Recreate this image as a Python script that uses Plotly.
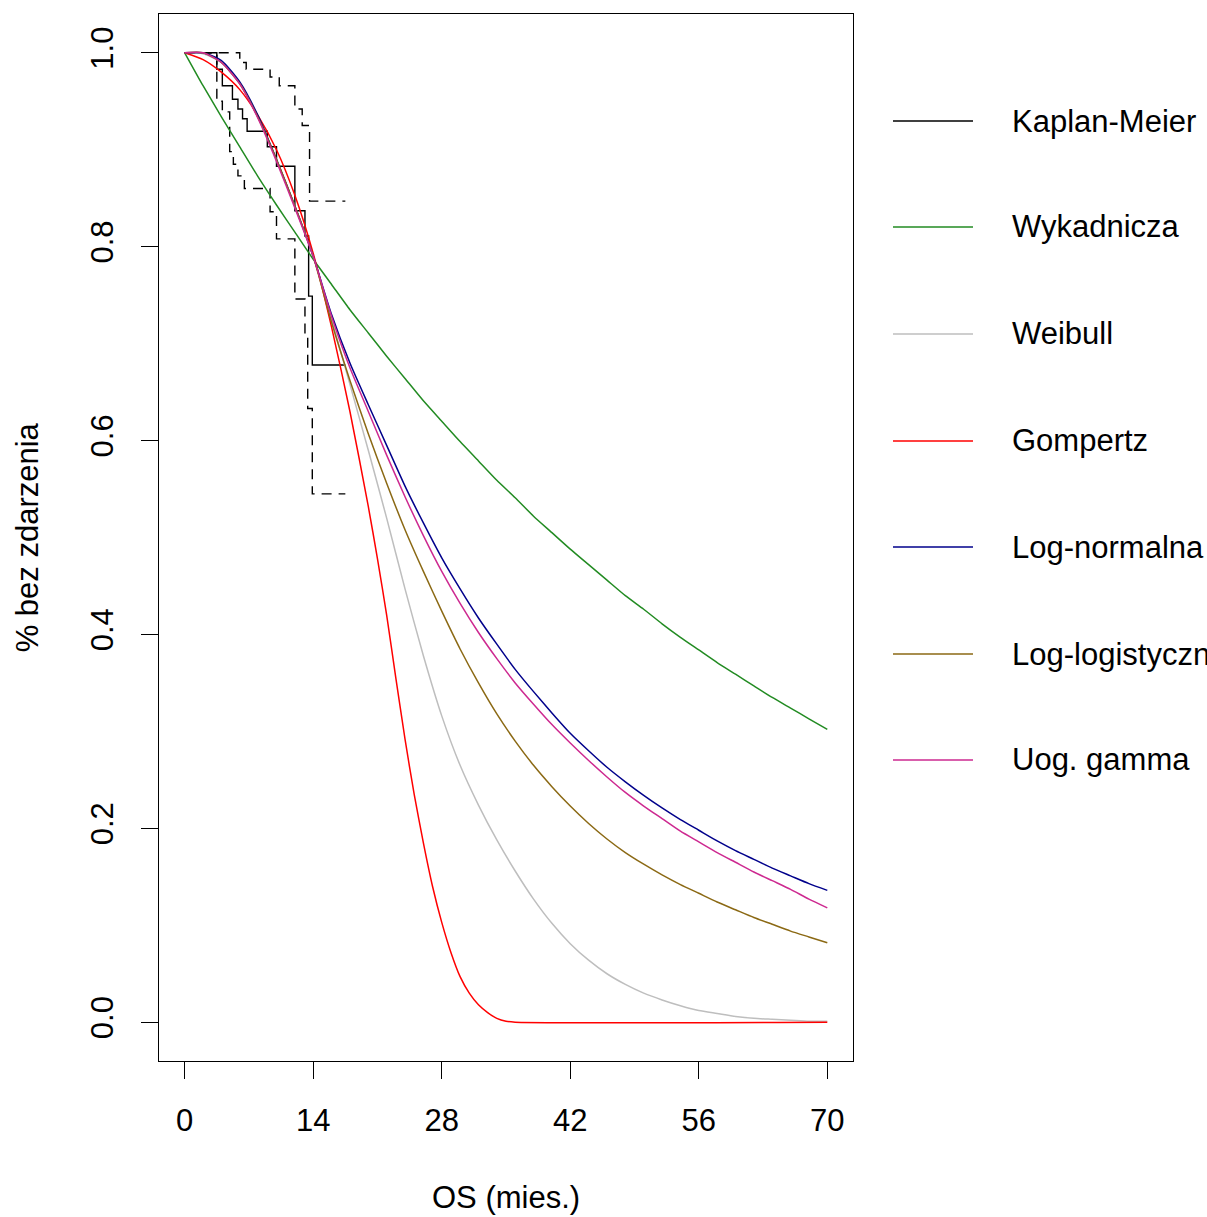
import plotly.graph_objects as go

# ---- Kaplan-Meier step curve and 95% CI ----
km_t = [0, 3.5, 4.1, 5.2, 5.8, 6.3, 6.8, 9.0, 10.0, 12.0, 13.1, 13.5, 13.9, 17.5]
km_s = [1.0, 0.983, 0.966, 0.952, 0.942, 0.932, 0.919, 0.903, 0.883, 0.837, 0.811, 0.749, 0.678, 0.678]

km_lo_t = [0, 3.5, 4.1, 4.9, 5.3, 5.8, 6.5, 9.3, 10.0, 12.0, 13.1, 13.4, 13.9, 17.5]
km_lo_s = [1.0, 0.95, 0.939, 0.898, 0.885, 0.873, 0.86, 0.836, 0.808, 0.746, 0.708, 0.633, 0.545, 0.545]

km_up_t = [0, 6.0, 6.7, 9.3, 10.3, 12.0, 12.8, 13.6, 17.5]
km_up_s = [1.0, 0.99, 0.983, 0.975, 0.966, 0.942, 0.925, 0.847, 0.847]

# ---- fitted parametric curves, read at t = 0, 2, ..., 70 ----
t_grid = [0, 2, 4, 6, 8, 10, 12, 14, 16, 18, 20, 22, 24, 26, 28, 30, 32, 34,
          36, 38, 40, 42, 44, 46, 48, 50, 52, 54, 56, 58, 60, 62, 64, 66, 68, 70]

s_exp = [1.0, 0.966, 0.934, 0.903, 0.872, 0.843, 0.815, 0.787, 0.761, 0.735, 0.711, 0.687,
         0.664, 0.641, 0.620, 0.599, 0.579, 0.559, 0.541, 0.522, 0.505, 0.488, 0.472, 0.456,
         0.440, 0.426, 0.411, 0.397, 0.384, 0.371, 0.359, 0.347, 0.335, 0.324, 0.313, 0.302]

s_weibull = [1.0, 0.999, 0.99, 0.968, 0.933, 0.89, 0.842, 0.79, 0.725, 0.658, 0.59, 0.52,
             0.447, 0.378, 0.316, 0.265, 0.224, 0.188, 0.156, 0.127, 0.102, 0.081, 0.064, 0.05,
             0.039, 0.03, 0.023, 0.017, 0.012, 0.009, 0.006, 0.004, 0.003, 0.002, 0.001, 0.001]

gomp_t = [0, 2, 4, 6, 8, 10, 12, 14, 16, 18, 20, 21, 22, 23, 24, 25, 26, 27, 28, 29, 30,
          31, 32, 33, 34, 35, 36, 70]
s_gomp = [1.0, 0.993, 0.98, 0.962, 0.935, 0.9, 0.853, 0.793, 0.717, 0.63, 0.532, 0.478,
          0.42, 0.355, 0.292, 0.235, 0.185, 0.14, 0.103, 0.072, 0.047, 0.03, 0.018, 0.01,
          0.004, 0.001, 0.0, 0.0]

s_lognorm = [1.0, 1.0, 0.992, 0.97, 0.935, 0.89, 0.842, 0.79, 0.73, 0.68, 0.637, 0.595,
             0.553, 0.515, 0.479, 0.447, 0.417, 0.39, 0.364, 0.341, 0.319, 0.298, 0.28, 0.263,
             0.248, 0.234, 0.221, 0.209, 0.198, 0.187, 0.177, 0.168, 0.159, 0.151, 0.143, 0.136]

s_loglog = [1.0, 1.0, 0.99, 0.968, 0.933, 0.89, 0.842, 0.79, 0.722, 0.662, 0.607, 0.556,
            0.508, 0.465, 0.424, 0.385, 0.35, 0.318, 0.29, 0.265, 0.243, 0.223, 0.205, 0.189,
            0.175, 0.163, 0.152, 0.142, 0.133, 0.124, 0.116, 0.108, 0.101, 0.094, 0.088, 0.082]

s_gengamma = [1.0, 1.0, 0.99, 0.968, 0.932, 0.888, 0.84, 0.79, 0.728, 0.675, 0.63, 0.585,
              0.542, 0.502, 0.465, 0.432, 0.402, 0.375, 0.35, 0.328, 0.307, 0.288, 0.27, 0.253,
              0.237, 0.223, 0.21, 0.197, 0.186, 0.175, 0.165, 0.155, 0.146, 0.137, 0.127, 0.118]

x_ticks = [0, 14, 28, 42, 56, 70]
y_ticks = [0.0, 0.2, 0.4, 0.6, 0.8, 1.0]

legend_labels = ["Kaplan-Meier", "Wykadnicza", "Weibull", "Gompertz",
                 "Log-normalna", "Log-logistyczna", "Uog. gamma"]
legend_colors = ["#000000", "#228B22", "#BEBEBE", "#FF0000", "#00008B", "#8B6914", "#CD2990"]

FONT = "Liberation Sans, Arial, sans-serif"
fig = go.Figure()

# KM and CI
fig.add_trace(go.Scatter(x=km_t, y=km_s, mode="lines", line=dict(color="black", width=1.4, shape="hv"),
                         showlegend=False))
fig.add_trace(go.Scatter(x=km_lo_t, y=km_lo_s, mode="lines",
                         line=dict(color="black", width=1.4, shape="hv", dash="10px,7px"), showlegend=False))
fig.add_trace(go.Scatter(x=km_up_t, y=km_up_s, mode="lines",
                         line=dict(color="black", width=1.4, shape="hv", dash="10px,7px"), showlegend=False))

curves = [
    (t_grid, s_exp, legend_colors[1]),
    (t_grid, s_weibull, legend_colors[2]),
    (gomp_t, s_gomp, legend_colors[3]),
    (t_grid, s_lognorm, legend_colors[4]),
    (t_grid, s_loglog, legend_colors[5]),
    (t_grid, s_gengamma, legend_colors[6]),
]
for xs, ys, col in curves:
    fig.add_trace(go.Scatter(x=xs, y=ys, mode="lines",
                             line=dict(color=col, width=1.5, shape="spline", smoothing=0.6),
                             showlegend=False))

# Manual legend outside the plot area (R style)
shapes = []
annotations = []
leg_y = [0.8978, 0.7966, 0.6944, 0.5922, 0.4909, 0.3887, 0.2875]
for lab, col, yy in zip(legend_labels, legend_colors, leg_y):
    shapes.append(dict(type="line", xref="paper", yref="paper", x0=1.0576, x1=1.1729, y0=yy, y1=yy,
                       line=dict(color=col, width=1.4)))
    annotations.append(dict(xref="paper", yref="paper", x=1.2262, y=yy, text=lab, showarrow=False,
                            xanchor="left", yanchor="middle", font=dict(family=FONT, size=31, color="black")))

# Axis titles
annotations.append(dict(xref="paper", yref="paper", x=0.5, y=-0.130, text="OS (mies.)", showarrow=False,
                        xanchor="center", yanchor="middle", font=dict(family=FONT, size=31, color="black")))
annotations.append(dict(xref="paper", yref="paper", x=-0.189, y=0.5, text="% bez zdarzenia", showarrow=False,
                        textangle=-90, xanchor="center", yanchor="middle",
                        font=dict(family=FONT, size=31, color="black")))

fig.update_layout(
    width=1207, height=1217,
    margin=dict(l=159, r=354, t=14, b=156),
    paper_bgcolor="white", plot_bgcolor="white",
    showlegend=False,
    shapes=shapes, annotations=annotations,
    font=dict(family=FONT, size=31, color="black"),
)
fig.update_xaxes(range=[-2.8, 72.8], tickvals=x_ticks, ticktext=[str(v) for v in x_ticks],
                 showgrid=False, zeroline=False, showline=True, linecolor="black", linewidth=1.4,
                 mirror=True, ticks="outside", ticklen=17, tickwidth=1.4, tickcolor="black",
                 tickfont=dict(family=FONT, size=31, color="black"), ticklabelstandoff=15)
fig.update_yaxes(range=[-0.04, 1.04], tickvals=y_ticks, ticktext=[f"{v:.1f}" for v in y_ticks],
                 showgrid=False, zeroline=False, showline=True, linecolor="black", linewidth=1.4,
                 mirror=True, ticks="outside", ticklen=17, tickwidth=1.4, tickcolor="black",
                 tickangle=-90, tickfont=dict(family=FONT, size=31, color="black"), ticklabelstandoff=15)

fig.write_html("out.html", config={"displayModeBar": False},
               post_script="document.body.style.margin='0';document.body.style.overflow='hidden';")
